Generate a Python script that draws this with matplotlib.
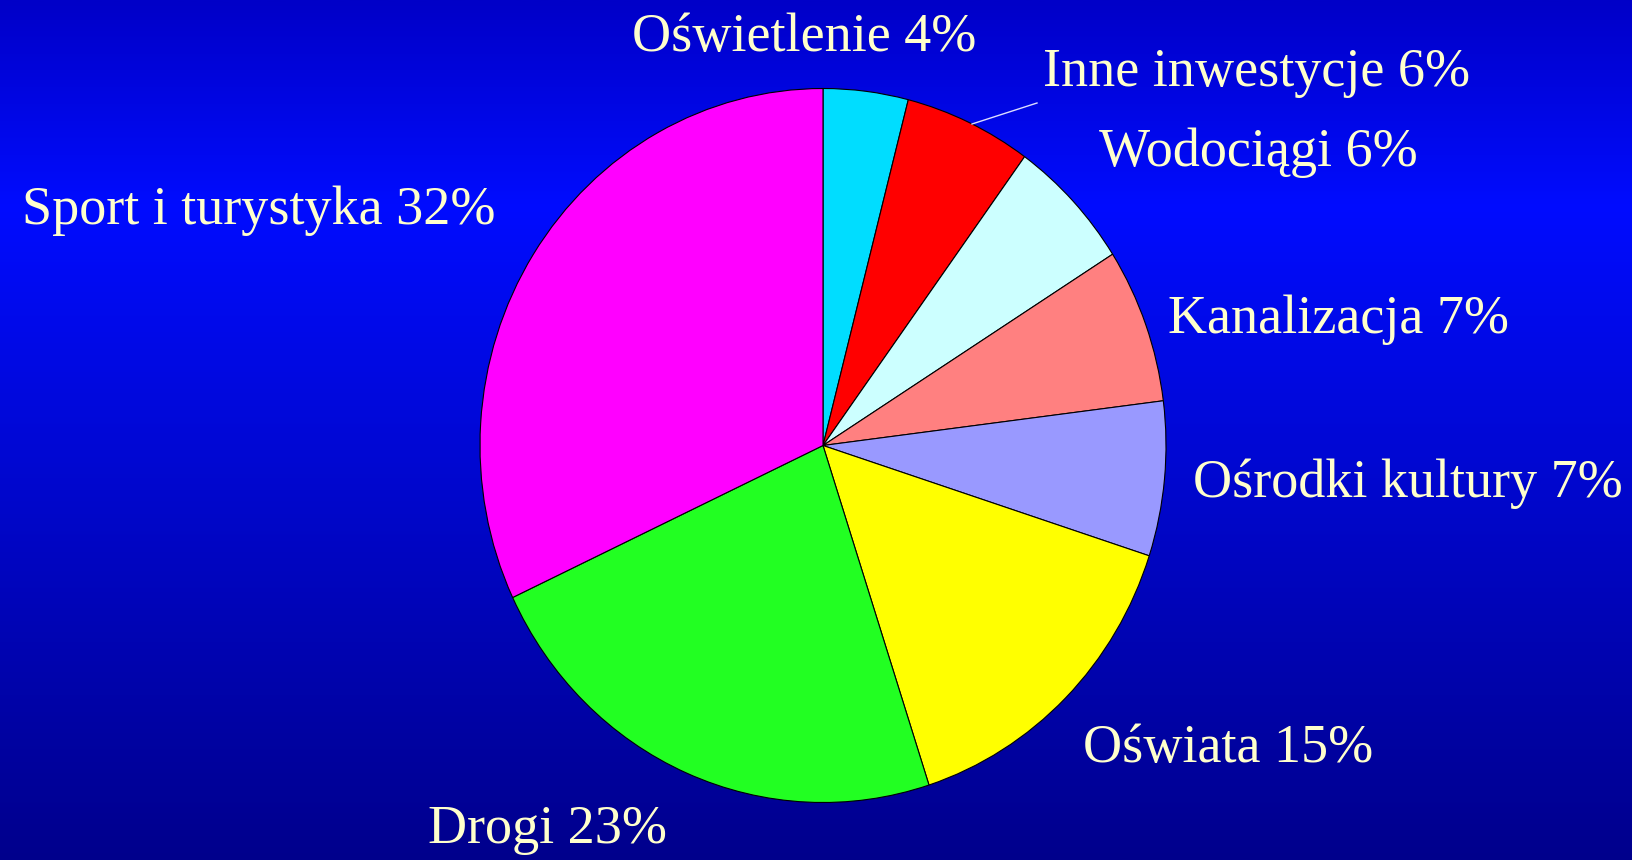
import numpy as np
import matplotlib.pyplot as plt
from matplotlib.colors import LinearSegmentedColormap

# Dane wykresu
kategorie = ['Oświetlenie', 'Inne inwestycje', 'Wodociągi', 'Kanalizacja',
             'Ośrodki kultury', 'Oświata', 'Drogi', 'Sport i turystyka']
udzialy = [4, 6, 6, 7, 7, 15, 23, 32]
kolory = ['#00DDFF', '#FF0000', '#CCFFFF', '#FF8080',
          '#9999FF', '#FFFF00', '#22FF22', '#FF00FF']

# Pozycje etykiet (piksele, od góry)
pozycje_etykiet = [(804, 38), (1257, 73), (1258, 153), (1338, 320),
                   (1408, 484), (1228, 749), (548, 830), (259, 211)]

W, H = 1632, 860
fig = plt.figure(figsize=(W / 100, H / 100), dpi=100)
ax = fig.add_axes([0, 0, 1, 1])
ax.set_xlim(0, W)
ax.set_ylim(0, H)
ax.axis('off')

# Tło z gradientem
cmap = LinearSegmentedColormap.from_list('tlo', [
    (0.0, (0, 0, 140 / 255)),
    (0.76, (0, 12 / 255, 1.0)),
    (1.0, (0, 0, 200 / 255)),
])
grad = np.linspace(0, 1, 512).reshape(-1, 1)
ax.imshow(grad, extent=[0, W, 0, H], origin='lower', cmap=cmap,
          aspect='auto', zorder=0)

# Wykres kołowy (lekko wydłużony w pionie, jak w oryginale)
cx, cy, rx, ry = 823, 445.5, 343, 357
ax_pie = fig.add_axes([(cx - rx) / W, (H - cy - ry) / H, 2 * rx / W, 2 * ry / H])
ax_pie.pie(udzialy, colors=kolory, startangle=90, counterclock=False,
           wedgeprops=dict(edgecolor='black', linewidth=0.8))
ax_pie.set_aspect('auto')
ax_pie.set_xlim(-1, 1)
ax_pie.set_ylim(-1, 1)
ax_pie.axis('off')

# Warstwa z etykietami
ax_txt = fig.add_axes([0, 0, 1, 1])
ax_txt.set_xlim(0, W)
ax_txt.set_ylim(0, H)
ax_txt.axis('off')

# Linia odniesienia dla "Inne inwestycje"
ax_txt.plot([1037, 972], [H - 103, H - 124], color='#ddddff', lw=1)

for nazwa, wart, (x, y) in zip(kategorie, udzialy, pozycje_etykiet):
    ax_txt.text(x, H - y, f'{nazwa} {wart}%', ha='center', va='center',
                fontsize=39, family='Liberation Serif', color='#FFFFCC')

fig.savefig('out.png', dpi=100)
